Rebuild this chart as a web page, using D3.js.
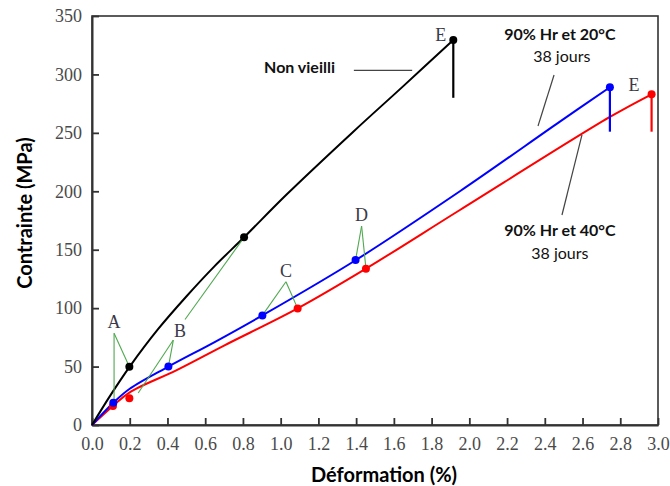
<!DOCTYPE html>
<html><head><meta charset="utf-8">
<script src="https://cdn.jsdelivr.net/npm/d3@7"></script>
<style>body{margin:0;background:#fff}svg{display:block}</style>
</head><body>
<svg id="c" width="670" height="486"></svg>
<script>
// ---- data ----
const xTicks = [0,0.2,0.4,0.6,0.8,1.0,1.2,1.4,1.6,1.8,2.0,2.2,2.4,2.6,2.8,3.0];
const yTicks = [0,50,100,150,200,250,300,350];

const blackX = [0,0.1,0.2,0.35,0.5,0.65,0.806,1.03,1.385,1.65,1.915];
const blackY = [0,26,50,82,110,136,160.6,197,251,290,329.5];
const blueX = [0,0.113,0.2,0.405,0.65,0.903,1.397,1.95,2.48,2.745];
const blueY = [0,19,31,50,71,93.8,141,200,259.6,289];
const redX = [0,0.111,0.2,0.449,0.7,1.09,1.452,1.95,2.745,2.966];
const redY = [0,16.3,28,47,68,99.8,133.8,184,263.6,283];

// failure drop (E) : [x, yTop, yBottom]
const blackDrop = [1.915,329.5,280];
const blueDrop = [2.745,289,251];
const redDrop = [2.966,283,251];

// labelled points
const blackPtsX = [0.198,0.806,1.915];
const blackPtsY = [49.9,160.6,329.5];
const bluePtsX = [0.113,0.405,0.903,1.397,2.745];
const bluePtsY = [19,50,93.8,141.2,289];
const redPtsX = [0.111,0.198,1.09,1.452,2.966];
const redPtsY = [16.3,22.8,99.8,133.8,283];

// point-letter annotations: letter, label position, apex, targets
const letters = ["A","B","C","D","E","E"];
const letterX = [0.117,0.467,1.028,1.429,1.848,2.873];
const letterY = [88,80.5,131.5,179.5,334,291];
const greenSegs = [
  [0.117,78.5,0.198,49.9],[0.117,78.5,0.117,18],
  [0.431,72.7,0.405,50],[0.431,72.7,0.245,27.4],[0.493,90.3,0.806,160.6],
  [1.028,122.6,0.903,93.8],[1.028,122.6,1.09,99.8],
  [1.429,170.3,1.397,141.2],[1.429,170.3,1.452,133.8]
];
// text annotations
const notes = [
  {t:"Non vieilli", x:1.10, y:305.5, bold:true},
  {t:"90% Hr et 20°C", x:2.48, y:334, bold:true},
  {t:"38 jours", x:2.49, y:315, bold:false},
  {t:"90% Hr et 40°C", x:2.48, y:166, bold:true},
  {t:"38 jours", x:2.48, y:146.3, bold:false}
];
const leaders = [[1.388,303.4,1.697,303.4],[2.449,299.5,2.364,255.9],[2.597,248.2,2.491,179.7]];

// ---- chart ----
const W=670,H=486, m={l:92,t:16,r:12,b:61};
const svg=d3.select("#c");
const x=d3.scaleLinear().domain([0,3]).range([m.l,W-m.r]);
const y=d3.scaleLinear().domain([0,350]).range([H-m.b,m.t]);
const serif="'Liberation Serif','Times New Roman',serif";
const sans="Lato,'Open Sans',sans-serif";

// frame
svg.append("rect").attr("x",x(0)).attr("y",y(350)).attr("width",x(3)-x(0)).attr("height",y(0)-y(350))
  .attr("fill","none").attr("stroke","#333").attr("stroke-width",1.6);

const xa=svg.append("g").attr("transform",`translate(0,${y(0)})`)
  .call(d3.axisBottom(x).tickValues(xTicks).tickFormat(d3.format(".1f")).tickSizeInner(-7).tickSizeOuter(0).tickPadding(12));
const ya=svg.append("g").attr("transform",`translate(${x(0)},0)`)
  .call(d3.axisLeft(y).tickValues(yTicks).tickSizeInner(-7).tickSizeOuter(0).tickPadding(10));
[xa,ya].forEach(a=>{
  a.attr("font-family",null).attr("font-size",null);
  a.select(".domain").attr("stroke","#333").attr("stroke-width",2);
  a.selectAll(".tick line").attr("stroke","#333").attr("stroke-width",1.8);
  a.selectAll(".tick text").style("font-family",serif).style("font-size","18px").attr("fill","#4a4a4a");
});

svg.append("text").attr("x",384).attr("y",482).attr("text-anchor","middle")
  .attr("font-family",sans).attr("font-weight","bold").attr("font-size",20).text("Déformation (%)");
svg.append("text").attr("transform","translate(32,213) rotate(-90)").attr("text-anchor","middle")
  .attr("font-family",sans).attr("font-weight","bold").attr("font-size",20).text("Contrainte (MPa)");

const line=d3.line().x(d=>x(d[0])).y(d=>y(d[1])).curve(d3.curveCatmullRom.alpha(0.5));
function series(X,Y,col,drop){
  svg.append("path").attr("d",line(X.map((v,i)=>[v,Y[i]]))).attr("fill","none").attr("stroke",col).attr("stroke-width",2);
  svg.append("line").attr("x1",x(drop[0])).attr("x2",x(drop[0])).attr("y1",y(drop[1])).attr("y2",y(drop[2]))
    .attr("stroke",col).attr("stroke-width",2.2);
}
series(redX,redY,"#ff0000",redDrop);
series(blueX,blueY,"#0000ff",blueDrop);
series(blackX,blackY,"#000000",blackDrop);

// green leaders
svg.append("g").selectAll("line").data(greenSegs).join("line")
  .attr("x1",d=>x(d[0])).attr("y1",d=>y(d[1])).attr("x2",d=>x(d[2])).attr("y2",d=>y(d[3]))
  .attr("stroke","#4fa84f").attr("stroke-width",1.1);

function dots(X,Y,col){
  svg.append("g").selectAll("circle").data(X).join("circle")
    .attr("cx",d=>x(d)).attr("cy",(d,i)=>y(Y[i])).attr("r",4).attr("fill",col);
}
dots(redPtsX,redPtsY,"#ff0000");
dots(bluePtsX,bluePtsY,"#0000ff");
dots(blackPtsX,blackPtsY,"#000000");

svg.append("g").selectAll("text").data(letters).join("text")
  .attr("x",(d,i)=>x(letterX[i])).attr("y",(d,i)=>y(letterY[i])+6).attr("text-anchor","middle")
  .attr("font-family",serif).attr("font-size",18).attr("fill","#3a3a48").text(d=>d);

svg.append("g").selectAll("line").data(leaders).join("line")
  .attr("x1",d=>x(d[0])).attr("y1",d=>y(d[1])).attr("x2",d=>x(d[2])).attr("y2",d=>y(d[3]))
  .attr("stroke","#444").attr("stroke-width",1.2);

svg.append("g").selectAll("text").data(notes).join("text")
  .attr("x",d=>x(d.x)).attr("y",d=>y(d.y)+5).attr("text-anchor","middle")
  .attr("font-family",sans).attr("font-weight",d=>d.bold?"bold":"normal").attr("font-size",16)
  .attr("fill","#111").text(d=>d.t);
</script>
</body></html>
